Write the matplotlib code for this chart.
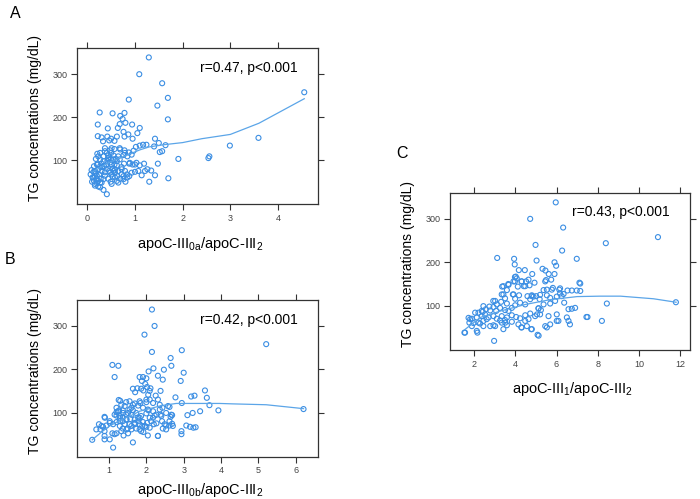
import matplotlib.pyplot as plt

plt.rcParams['font.family'] = ['Liberation Sans', 'DejaVu Sans']

# panel A: apoC-III0a/apoC-III2 vs TG
a_x = [1.29, 1.09, 1.57, 1.69, 0.87, 1.47, 1.69, 0.26, 0.53, 0.78, 0.69, 0.74, 0.80, 0.94,
       0.22, 0.43, 0.64, 0.68, 1.10, 0.62, 0.76, 0.86, 1.05, 0.22, 0.30, 0.42, 0.50, 0.33,
       0.46, 0.57, 0.78, 0.95, 1.42, 1.50, 1.40, 1.10, 1.17, 1.24, 1.52, 1.57, 1.64, 1.02,
       0.97, 0.87, 0.78, 0.69, 0.57, 0.48, 0.37, 0.41, 0.27, 0.21, 0.18, 0.27, 0.34, 0.44,
       0.55, 0.65, 0.76, 0.84, 0.48, 0.51, 0.57, 0.62, 0.39, 0.30, 0.22, 0.14, 0.16, 0.07,
       0.11, 0.10, 0.16, 0.23, 0.34, 0.41, 0.20, 0.16, 0.25, 0.30, 0.37, 0.46, 0.51, 0.58,
       0.65, 0.72, 0.79, 0.84, 0.69, 0.62, 0.49, 0.44, 0.34, 0.27, 0.72, 0.77, 0.88, 0.95,
       1.03, 1.10, 1.00, 1.14, 1.19, 1.26, 1.34, 1.30, 1.42, 1.48, 1.70, 1.91, 2.54, 2.56,
       0.93, 0.13, 0.18, 0.23, 0.14, 0.20, 0.28, 0.09, 0.31, 0.35, 0.42, 0.49, 0.55, 0.60,
       0.44, 0.50, 0.53, 0.41, 0.58, 0.63, 0.53, 0.76, 0.80, 0.88, 0.93, 4.55, 3.59, 2.99,
       0.16, 0.20, 0.13, 0.23, 0.16, 0.27, 0.30, 0.37, 0.48, 0.55, 0.58, 0.51, 0.62, 0.68,
       0.44, 0.34, 0.27, 0.20, 0.23, 0.37, 0.51, 0.68, 0.79, 0.89, 1.00, 1.07, 1.21, 0.72,
       0.83, 0.76, 0.51, 0.65]
a_y = [339, 300, 279, 245, 241, 227, 195, 211, 209, 210, 203, 196, 187, 183,
       183, 174, 175, 184, 175, 155, 166, 160, 163, 156, 153, 155, 150, 144,
       146, 145, 155, 150, 150, 140, 132, 134, 136, 136, 119, 121, 135, 131,
       122, 118, 123, 125, 126, 123, 128, 117, 117, 115, 103, 102, 109, 105,
       111, 109, 112, 109, 95, 90, 90, 88, 88, 92, 90, 86, 75, 67,
       60, 50, 41, 39, 31, 21, 56, 63, 67, 75, 72, 75, 67, 71,
       75, 67, 75, 60, 57, 52, 50, 57, 56, 48, 84, 92, 92, 90,
       94, 88, 73, 65, 92, 79, 76, 50, 65, 92, 58, 103, 105, 109,
       113, 73, 69, 79, 52, 47, 57, 77, 84, 86, 98, 103, 102, 103,
       111, 117, 80, 80, 78, 63, 62, 63, 50, 63, 71, 258, 152, 134,
       71, 64, 60, 52, 45, 37, 48, 64, 71, 75, 60, 90, 98, 102,
       102, 98, 86, 90, 109, 121, 128, 128, 117, 94, 90, 75, 75, 79,
       67, 56, 45, 48]
a_fit_x = [0.10, 0.30, 0.50, 0.70, 0.86, 1.10, 1.30, 1.60, 2.00, 2.40, 3.00, 3.60, 4.10, 4.55]
a_fit_y = [72, 85, 97, 106, 113, 124, 131, 136, 141, 150, 160, 186, 216, 243]

# panel B: apoC-III0b/apoC-III2 vs TG
b_x = [2.15, 2.22, 1.95, 2.15, 2.95, 2.65, 2.67, 1.09, 1.25, 1.15, 3.00, 2.47, 2.06, 2.19,
       2.31, 2.44, 2.92, 1.82, 1.91, 2.00, 1.88, 1.97, 1.86, 2.02, 2.11, 1.92, 1.76, 1.64,
       1.70, 2.09, 2.38, 2.25, 2.05, 2.09, 2.18, 2.00, 1.84, 1.78, 1.69, 1.55, 1.46, 1.30,
       1.26, 1.42, 1.60, 1.91, 2.06, 2.31, 2.36, 2.43, 2.53, 2.62, 2.78, 2.95, 2.69, 2.65,
       2.38, 2.22, 2.00, 1.86, 1.73, 1.64, 1.51, 1.37, 1.27, 1.20, 1.20, 1.29, 1.37, 1.46,
       1.57, 1.69, 1.78, 1.91, 2.02, 2.13, 2.27, 2.42, 2.53, 2.44, 2.31, 2.62, 2.69, 2.94,
       2.94, 3.07, 3.17, 3.26, 1.20, 1.11, 1.02, 0.93, 0.84, 0.73, 0.66, 0.77, 0.88, 0.88,
       0.88, 0.55, 1.11, 1.64, 1.09, 1.20, 1.33, 1.39, 1.51, 1.60, 1.73, 1.86, 1.92, 2.04,
       1.89, 2.00, 1.82, 1.69, 1.55, 1.42, 1.29, 1.37, 1.50, 0.88, 2.20, 2.40, 2.09, 2.18,
       1.82, 1.60, 1.37, 1.29, 1.46, 1.20, 1.33, 5.21, 3.57, 3.62, 3.69, 3.93, 6.21, 3.20,
       3.29, 3.10, 3.24, 3.44, 3.32,
       0.89, 0.80, 1.02, 1.15, 1.24, 1.29, 1.38, 1.47, 1.55, 1.64, 1.60, 1.69, 1.78, 1.82,
       2.00, 2.04, 2.18, 2.27, 2.36, 2.49, 2.62, 2.67, 2.58, 2.71, 2.09, 1.96, 1.82, 1.47,
       1.15, 1.02, 2.31, 2.53]
b_y = [338, 300, 280, 240, 244, 226, 208, 210, 208, 182, 192, 199, 195, 202,
       185, 176, 173, 182, 182, 179, 173, 166, 155, 159, 156, 151, 156, 155,
       147, 150, 150, 139, 141, 130, 122, 124, 122, 116, 121, 126, 124, 127,
       129, 115, 111, 111, 105, 130, 118, 111, 99, 113, 135, 122, 94, 90,
       95, 93, 98, 92, 99, 105, 99, 105, 105, 101, 93, 92, 89, 84,
       85, 84, 80, 78, 76, 80, 75, 80, 70, 63, 46, 70, 74, 57,
       50, 70, 67, 65, 78, 73, 76, 70, 67, 73, 61, 61, 57, 46,
       38, 37, 19, 31, 52, 52, 57, 47, 52, 61, 63, 57, 55, 47,
       69, 67, 73, 73, 73, 73, 69, 63, 63, 90, 73, 92, 88, 103,
       88, 95, 80, 80, 95, 111, 118, 258, 151, 134, 117, 105, 108, 137,
       139, 94, 99, 103, 66,
       88, 69, 80, 95, 103, 88, 99, 84, 107, 118, 69, 76, 88, 126,
       130, 107, 88, 95, 107, 73, 80, 95, 115, 69, 65, 69, 61, 61,
       50, 38, 46, 61]
b_fit_x = [0.55, 0.80, 1.02, 1.30, 1.64, 1.82, 2.00, 2.27, 2.40, 2.80, 3.40, 3.96, 4.32, 5.21, 6.21]
b_fit_y = [37, 55, 69, 82, 95, 103, 107, 113, 116, 121, 121, 121, 120, 118, 109]

# panel C: apoC-III1/apoC-III2 vs TG
c_x = [5.96, 4.72, 6.32, 4.98, 6.27, 3.12, 3.94, 5.03, 5.90, 5.98, 3.97, 4.17, 4.46, 5.32,
       5.46, 5.62, 5.90, 4.82, 5.49, 5.74, 4.02, 4.07, 3.91, 4.31, 4.52, 4.69, 4.93, 3.36,
       3.67, 3.59, 4.12, 4.48, 5.37, 5.53, 5.82, 6.13, 6.17, 6.34, 6.53, 6.74, 6.98, 7.11,
       3.34, 3.50, 3.88, 3.99, 4.18, 4.59, 4.80, 5.01, 5.20, 5.53, 5.69, 6.01, 3.59, 3.31,
       3.10, 2.94, 2.74, 2.57, 2.37, 2.21, 2.42, 2.78, 3.02, 3.07, 3.26, 3.50, 3.83, 3.99,
       4.23, 4.48, 4.72, 4.88, 5.12, 5.24, 5.37, 5.69, 5.93, 6.37, 6.58, 6.74, 6.90, 2.53,
       2.37, 2.13, 1.89, 1.73, 1.97, 2.21, 2.45, 2.70, 2.94, 3.10, 3.34, 3.59, 3.83, 4.04,
       4.23, 4.48, 4.72, 4.96, 5.20, 5.61, 6.01, 6.50, 6.58, 6.01, 5.69, 5.45, 4.77, 5.08,
       4.31, 3.83, 3.59, 3.34, 2.94, 2.78, 2.45, 2.13, 1.89, 1.53, 1.77, 2.97, 2.29, 2.61,
       4.15, 4.48, 4.56, 3.50, 3.67, 10.92, 8.39, 6.98, 7.15, 7.15, 8.44, 7.50, 8.20, 11.79,
       3.42, 3.66, 3.98, 4.30, 4.41, 3.98, 3.91, 3.42, 2.93, 2.45, 2.05, 1.81, 1.56, 2.16,
       3.02, 3.26, 3.51, 3.42, 4.29, 4.64, 4.80, 5.13, 5.53, 6.09, 6.65, 7.45, 5.05, 5.13,
       4.80, 5.18, 5.77, 6.17, 6.25, 5.45, 4.64]
c_y = [338, 300, 280, 240, 227, 210, 208, 204, 200, 192, 195, 182, 182, 185,
       181, 173, 173, 173, 159, 160, 167, 163, 156, 156, 156, 147, 153, 144,
       148, 136, 144, 145, 136, 137, 141, 137, 128, 127, 135, 135, 135, 153,
       126, 117, 126, 116, 124, 122, 124, 122, 125, 124, 118, 121, 105, 109,
       103, 97, 98, 92, 88, 84, 86, 89, 111, 88, 95, 90, 95, 101,
       107, 103, 115, 121, 94, 90, 103, 105, 111, 107, 92, 93, 95, 80,
       76, 73, 70, 72, 60, 61, 65, 73, 76, 70, 76, 73, 78, 74,
       71, 78, 82, 76, 80, 76, 80, 73, 65, 65, 57, 53, 46, 33,
       50, 63, 55, 61, 55, 53, 53, 42, 53, 38, 61, 19, 59, 69,
       57, 65, 53, 67, 88, 258, 244, 208, 151, 134, 105, 74, 65, 108,
       145, 150, 156, 156, 145, 166, 126, 126, 111, 99, 84, 69, 38, 38,
       53, 66, 61, 46, 50, 69, 46, 31, 50, 65, 57, 74, 80, 94,
       122, 115, 137, 140, 122, 156, 160]
c_fit_x = [1.55, 2.30, 3.30, 4.50, 5.70, 7.00, 8.10, 9.10, 10.70, 11.80]
c_fit_y = [45, 73, 88, 103, 114, 121, 122, 122, 116, 108]

ylabel = 'TG concentrations (mg/dL)'
pt_color = '#3b8ee3'
fit_color = '#5ba5e8'

fig = plt.figure(figsize=(7.0, 4.99), dpi=100)

panels = [
    # rect, x, y, fit x, fit y, xlim, xticks, xlabel, r text, letter, letter pos, xlabel y
    ([0.1104, 0.591, 0.344, 0.312], a_x, a_y, a_fit_x, a_fit_y, (-0.21, 4.84), [0, 1, 2, 3, 4],
     'apoC-III$\\mathregular{_{0a}}$/apoC-III$\\mathregular{_2}$', 'r=0.47, p<0.001', 'A', (15, 14), -0.2),
    ([0.1104, 0.0848, 0.344, 0.314], b_x, b_y, b_fit_x, b_fit_y, (0.15, 6.6), [1, 2, 3, 4, 5, 6],
     'apoC-III$\\mathregular{_{0b}}$/apoC-III$\\mathregular{_2}$', 'r=0.42, p<0.001', 'B', (10, 260), -0.155),
    ([0.643, 0.2986, 0.342, 0.315], c_x, c_y, c_fit_x, c_fit_y, (0.835, 12.45), [2, 4, 6, 8, 10, 12],
     'apoC-III$\\mathregular{_1}$/apoC-III$\\mathregular{_2}$', 'r=0.43, p<0.001', 'C', (402, 153), -0.19),
]

for rect, xs, ys, fx, fy, xlim, xt, xl, rtxt, letter, lpos, xly in panels:
    ax = fig.add_axes(rect)
    ax.scatter(xs, ys, s=13, facecolors='none', edgecolors=pt_color, linewidths=0.8, zorder=2)
    ax.plot(fx, fy, color=fit_color, lw=0.9, zorder=3)
    ax.set_xlim(*xlim)
    ax.set_ylim(-2, 360)
    ax.set_xticks(xt)
    ax.set_yticks([100, 200, 300])
    ax.tick_params(direction='out', length=4, width=0.8, color='#333333',
                   labelsize=6.5, labelcolor='#444444', pad=3,
                   top=True, right=True)
    for sp in ax.spines.values():
        sp.set_color('#333333')
        sp.set_linewidth(0.9)
    ax.set_xlabel(xl, fontsize=10.5)
    ax.set_ylabel(ylabel, fontsize=10)
    ax.xaxis.set_label_coords(0.51, xly)
    ax.yaxis.set_label_coords(-0.145, 0.55)
    ax.text(0.915, 0.875, rtxt, transform=ax.transAxes, ha='right', va='center', fontsize=10)
    fig.text(lpos[0] / 700, 1 - lpos[1] / 499, letter, ha='center', va='center', fontsize=11.5)

fig.savefig('out.png', dpi=100)
